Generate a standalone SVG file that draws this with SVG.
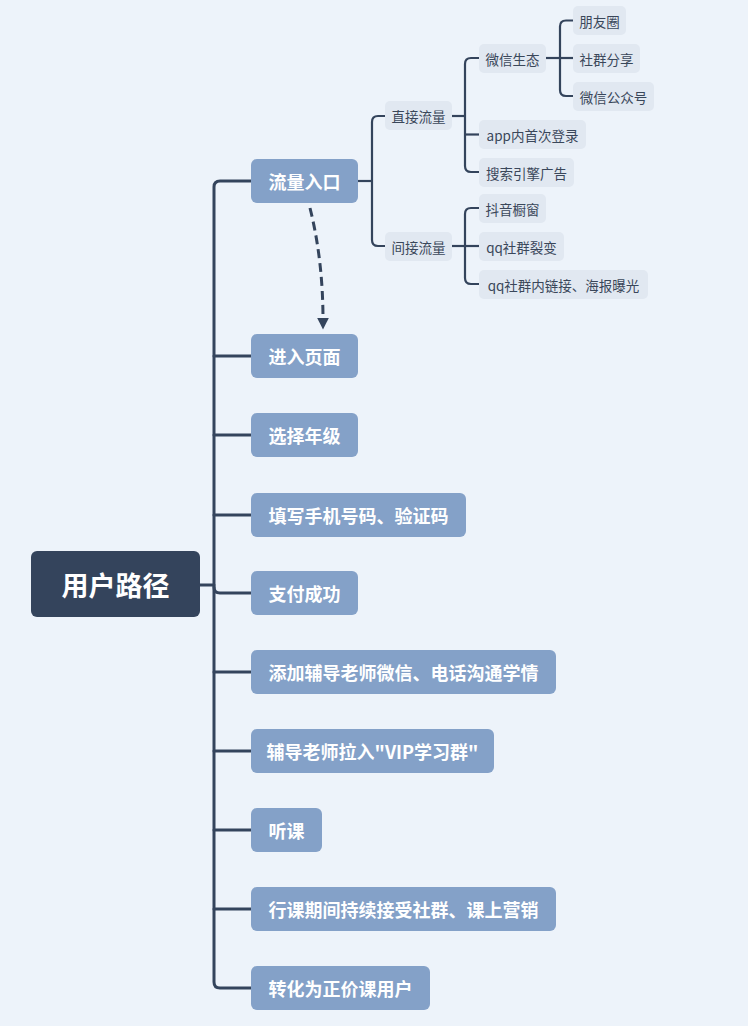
<svg xmlns="http://www.w3.org/2000/svg" width="748" height="1026" viewBox="0 0 748 1026">
<defs>
<style>
.bg{fill:#EDF3FA}
.root rect{fill:#34445C}
.root text{fill:#FFFFFF;font-size:27px;font-weight:bold}
.main rect{fill:#84A1C8}
.main text{fill:#FFFFFF;font-size:18px;font-weight:bold}
.sub rect{fill:#E1E8F1}
.sub text{fill:#3A475A;font-size:13.5px}
text{font-family:"Noto Sans CJK SC","Microsoft YaHei",sans-serif;text-anchor:middle;dominant-baseline:central}
.l1{fill:none;stroke:#34445C;stroke-width:3;stroke-linecap:round}
.l2{fill:none;stroke:#34445C;stroke-width:2.2}
.dash{fill:none;stroke:#34445C;stroke-width:3;stroke-dasharray:9,5}
</style>
<marker id="arr" viewBox="0 0 10 10" refX="2" refY="5" markerWidth="12" markerHeight="12" markerUnits="userSpaceOnUse" orient="auto">
<path d="M0,0 L10,5 L0,10 Z" fill="#34445C"/>
</marker>
</defs>
<rect class="bg" x="0" y="0" width="748" height="1026"/>
<g id="connectors">
<path class="l1" d="M200,585 H214"/>
<path class="l1" d="M251,181 H220 Q214,181 214,187 V982 Q214,988 220,988 H251"/>
<path class="l1" d="M214,356 H251"/>
<path class="l1" d="M214,435 H251"/>
<path class="l1" d="M214,515 H251"/>
<path class="l1" d="M214,587 Q214,593 220,593 H251"/>
<path class="l1" d="M214,672 H251"/>
<path class="l1" d="M214,751 H251"/>
<path class="l1" d="M214,830 H251"/>
<path class="l1" d="M214,909 H251"/>
<path class="l2" d="M358,181 H372"/>
<path class="l2" d="M385,116 H378 Q372,116 372,122 V240 Q372,246 378,246 H385"/>
<path class="l2" d="M452,116 H465"/>
<path class="l2" d="M479,58 H471 Q465,58 465,64 V166 Q465,172 471,172 H479"/>
<path class="l2" d="M465,134.5 H479"/>
<path class="l2" d="M546,58 H560"/>
<path class="l2" d="M573,20.5 H566 Q560,20.5 560,26.5 V90 Q560,96 566,96 H573"/>
<path class="l2" d="M560,58 H573"/>
<path class="l2" d="M452,246 H465"/>
<path class="l2" d="M479,208 H471 Q465,208 465,214 V278 Q465,284 471,284 H479"/>
<path class="l2" d="M465,246 H479"/>
<path class="dash" d="M310,208 Q323,260 323,320" marker-end="url(#arr)"/>
</g>
<g id="root" class="root"><rect x="31" y="551" width="169" height="66" rx="6"/><text x="115.5" y="584">用户路径</text></g>
<g id="n1" class="main"><rect x="251" y="159" width="107" height="44" rx="6"/><text x="304.5" y="181">流量入口</text></g>
<g id="n2" class="main"><rect x="251" y="334" width="107" height="44" rx="6"/><text x="304.5" y="356">进入页面</text></g>
<g id="n3" class="main"><rect x="251" y="413" width="107" height="44" rx="6"/><text x="304.5" y="435">选择年级</text></g>
<g id="n4" class="main"><rect x="251" y="493" width="215" height="44" rx="6"/><text x="358.5" y="515">填写手机号码、验证码</text></g>
<g id="n5" class="main"><rect x="251" y="571" width="107" height="44" rx="6"/><text x="304.5" y="593">支付成功</text></g>
<g id="n6" class="main"><rect x="251" y="650" width="305" height="44" rx="6"/><text x="403.5" y="672">添加辅导老师微信、电话沟通学情</text></g>
<g id="n7" class="main"><rect x="251" y="729" width="243" height="44" rx="6"/><text x="372.5" y="751">辅导老师拉入"VIP学习群"</text></g>
<g id="n8" class="main"><rect x="251" y="808" width="71" height="44" rx="6"/><text x="286.5" y="830">听课</text></g>
<g id="n9" class="main"><rect x="251" y="887" width="305" height="44" rx="6"/><text x="403.5" y="909">行课期间持续接受社群、课上营销</text></g>
<g id="n10" class="main"><rect x="251" y="966" width="179" height="44" rx="6"/><text x="340.5" y="988">转化为正价课用户</text></g>
<g id="s1" class="sub"><rect x="385" y="101" width="67" height="29" rx="5"/><text x="418.5" y="115.5">直接流量</text></g>
<g id="s2" class="sub"><rect x="385" y="232" width="67" height="29" rx="5"/><text x="418.5" y="246.5">间接流量</text></g>
<g id="s3" class="sub"><rect x="479" y="44" width="67" height="29" rx="5"/><text x="512.5" y="58.5">微信生态</text></g>
<g id="s4" class="sub"><rect x="479" y="120" width="107" height="29" rx="5"/><text x="532.5" y="134.5">app内首次登录</text></g>
<g id="s5" class="sub"><rect x="479" y="158" width="95" height="29" rx="5"/><text x="526.5" y="172.5">搜索引擎广告</text></g>
<g id="s6" class="sub"><rect x="573" y="6" width="53" height="29" rx="5"/><text x="599.5" y="20.5">朋友圈</text></g>
<g id="s7" class="sub"><rect x="573" y="44" width="67" height="29" rx="5"/><text x="606.5" y="58.5">社群分享</text></g>
<g id="s8" class="sub"><rect x="573" y="82" width="81" height="29" rx="5"/><text x="613.5" y="96.5">微信公众号</text></g>
<g id="s9" class="sub"><rect x="479" y="194" width="67" height="29" rx="5"/><text x="512.5" y="208.5">抖音橱窗</text></g>
<g id="s10" class="sub"><rect x="479" y="232" width="85" height="29" rx="5"/><text x="521.5" y="246.5">qq社群裂变</text></g>
<g id="s11" class="sub"><rect x="479" y="270" width="169" height="29" rx="5"/><text x="563.5" y="284.5">qq社群内链接、海报曝光</text></g>
</svg>
